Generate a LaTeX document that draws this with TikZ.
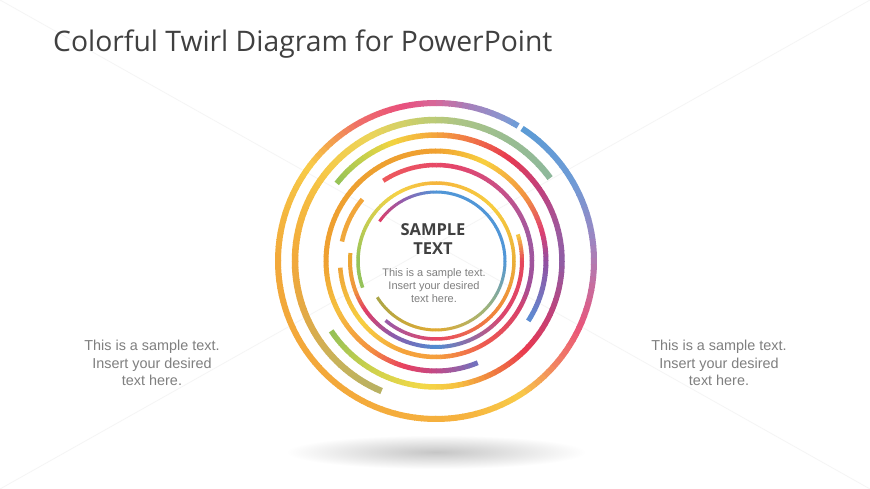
\documentclass[tikz,border=0pt]{standalone}
\usepackage{fontspec}
\setmainfont{Liberation Sans}
\newfontfamily\headfont{Open Sans}
\definecolor{txtgray}{RGB}{127,127,127}
\definecolor{titlegray}{RGB}{64,64,64}
\definecolor{darkgray}{RGB}{64,64,64}
\newcommand\ring[3]{%
  \foreach \ang/\vr/\vg/\vb [count=\idx, remember=\ang as \prva (initially 0), remember=\vr as \prvr (initially 0), remember=\vg as \prvg (initially 0), remember=\vb as \prvb (initially 0)] in {#3} {%
    \ifnum\idx>1
      \pgfmathtruncatemacro\nn{max(2,ceil(abs(\ang-\prva)/2.5))}%
      \foreach \k in {1,...,\nn} {%
        \pgfmathsetmacro\tq{(\k-0.5)/\nn}%
        \pgfmathsetmacro\angs{\prva+(\ang-\prva)*(\k-1)/\nn}%
        \pgfmathsetmacro\ange{\prva+(\ang-\prva)*\k/\nn+0.3*sign(\ang-\prva)}%
        \pgfmathtruncatemacro\colr{round(\prvr+(\vr-\prvr)*\tq)}%
        \pgfmathtruncatemacro\colg{round(\prvg+(\vg-\prvg)*\tq)}%
        \pgfmathtruncatemacro\colb{round(\prvb+(\vb-\prvb)*\tq)}%
        \draw[line width=#2, color={rgb,255:red,\colr;green,\colg;blue,\colb}] (CC) ++(\angs:#1) arc[start angle=\angs, end angle=\ange, radius=#1];
      }%
    \fi
  }%
}
\tikzset{
  bodytext/.style={font=\fontsize{14.4}{17.2}\selectfont, text=txtgray, align=center, inner sep=0pt},
  smalltext/.style={font=\fontsize{11}{13}\selectfont, text=txtgray, align=center, inner sep=0pt},
  headtext/.style={font=\headfont\bfseries\fontsize{16.5}{19.5}\selectfont, text=darkgray, align=center, inner sep=0pt},
}
\begin{document}
\begin{tikzpicture}[x=1pt,y=1pt]
\useasboundingbox (0,0) rectangle (870,489);
\fill[white] (0,0) rectangle (870,489);
\draw[gray!8, line width=0.8] (0,489) -- (870,0);
\draw[gray!8, line width=0.8] (0,0) -- (870,489);
\shade[inner color=gray!45, outer color=white] (436,37) ellipse (150 and 17);
\coordinate (CC) at (436,228);
% A
\ring{158}{6}{57/91/155/213, 30/110/155/214, 8/156/134/194, -8/196/111/162, -25/233/85/122, -42/242/134/96, -58/248/203/72, -80/246/178/62, -130/243/168/58, -180/242/168/58, -205/245/190/66, -217/248/204/72, -228/243/162/76, -241/239/110/104, -258/232/80/126, -270/214/104/154, -282/166/127/186, -295/139/150/207, -301/108/157/216}
% B
\ring{141}{6.5}{36/141/184/155, 60/154/189/146, 80/171/196/134, 95/194/205/112, 117/235/212/90, 140/246/202/72, 155/245/187/64, 180/242/169/59, 200/228/169/69, 225/200/178/90, 247/184/177/98}
% C
\ring{126}{5.5}{142/147/194/87, 125/198/208/76, 110/243/212/64, 92/244/168/60, 72/240/112/72, 55/231/58/80, 35/194/64/124, 12/154/91/160, 0/143/93/165, -25/192/66/122, -45/232/56/79, -65/240/132/62, -80/246/192/64, -95/244/216/72, -120/207/210/76, -146/147/192/87}
% D
\ring{110}{5}{-33/91/143/213, -15/124/108/184, 0/147/79/160, 16/224/64/112, 35/242/144/64, 64/248/208/64, 90/240/160/48, 126/237/160/48, 180/239/160/48, 206/245/192/64, 234/244/144/63, 253/232/64/96, 270/192/74/136, 292/111/115/192}
% E
\ring{96}{4.5}{140/242/165/58, 168/240/168/60}
\ring{96}{4.5}{184/239/165/58, 220/247/208/64, 250/245/162/60, 270/245/160/60, 300/238/90/80, 330/216/64/106, 345/160/80/154, 375/160/90/160, 407/200/80/136, 440/229/69/106, 483/238/90/92}
% F
\ring{86}{4}{18/247/205/64, 0/230/70/90, -40/220/70/110, -90/80/140/210, -120/140/90/170, -145/225/60/100, -160/240/150/60, -185/235/170/50}
% G
\ring{78}{3.5}{200/150/195/90, 180/150/195/90, 150/200/205/80, 120/245/210/70, 90/245/180/60, 45/247/205/64, 0/235/175/55, -45/240/130/60, -90/230/70/100, -130/150/90/170}
% H
\ring{69}{3}{145/225/60/100, 120/150/90/170, 90/80/150/215, 0/80/150/215, -45/160/180/120, -90/225/170/50, -148/170/165/70}
\node[anchor=base west, inner sep=0pt, font=\headfont\fontsize{28.3}{31}\selectfont, text=titlegray] (title) at (53,437) {Colorful Twirl Diagram for PowerPoint};
\node[headtext] (head) at (433,250) {SAMPLE\\TEXT};
\node[smalltext] (ctext) at (434,203) {This is a sample text.\\Insert your desired\\text here.};
\node[bodytext] (ltext) at (152,126) {This is a sample text.\\Insert your desired\\text here.};
\node[bodytext] (rtext) at (719,126) {This is a sample text.\\Insert your desired\\text here.};
\end{tikzpicture}
\end{document}
